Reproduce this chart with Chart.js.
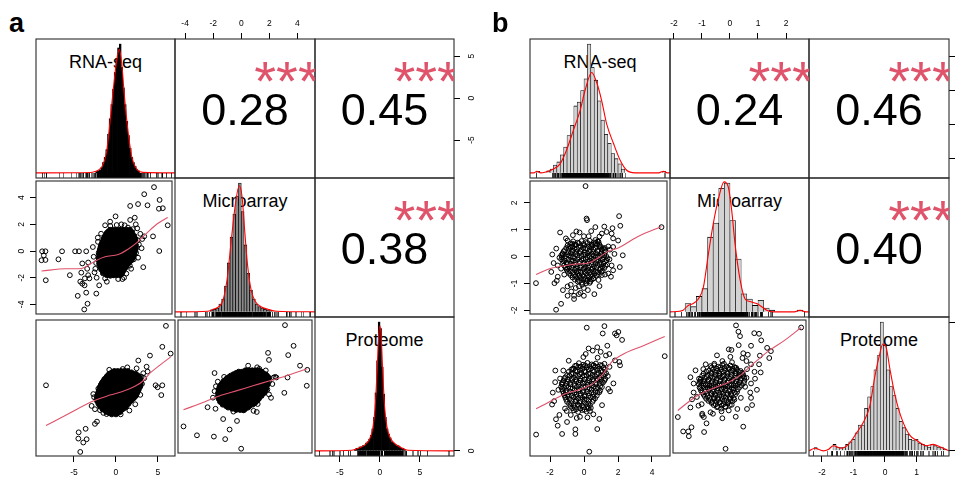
<!DOCTYPE html>
<html>
<head>
<meta charset="utf-8">
<title>Correlation matrices</title>
<script src="https://cdn.jsdelivr.net/npm/chart.js@4.4.1/dist/chart.umd.min.js"></script>
<style>
html,body{margin:0;padding:0;background:#fff;overflow:hidden;}
#root{position:relative;width:961px;height:477px;overflow:hidden;background:#fff;font-family:"Liberation Sans",Arial,Helvetica,sans-serif;}
#root canvas{position:absolute;z-index:1;}
.lbl{position:absolute;white-space:nowrap;line-height:1;color:#000;}
.cell{position:absolute;overflow:hidden;z-index:2;}
</style>
</head>
<body>
<div id="root"></div>
<script>
// ================= DATA =================
const varNames = ['RNA-seq', 'Microarray', 'Proteome'];
const panelTags = ['a', 'b'];
const corA = ['0.28', '0.45', '0.38'];      // (RNA,Micro) (RNA,Prot) (Micro,Prot)
const corB = ['0.24', '0.46', '0.40'];
const signifA = ['***', '***', '***'];
const signifB = ['***', '***', '***'];

const aRnaRange = [-9.52, 7.03], aMicroRange = [-4.72, 5.25], aProtRange = [-8.1, 9.25];
const bRnaRange = [-3.18, 5.06], bMicroRange = [-2.14, 2.82], bProtRange = [-2.41, 2.03];
const aRnaTicks = [-5, 0, 5], aMicroTicks = [-4, -2, 0, 2, 4], aProtTicks = [-5, 0, 5];
const bRnaTicks = [-2, 0, 2, 4], bMicroTicks = [-2, -1, 0, 1, 2], bProtTicks = [-2, -1, 0, 1];
const histRange = [-0.04, 1.04];

// ---- histograms (bin centres, relative heights) ----
const aRnaBinX = [-2.3,-2.1,-1.9,-1.7,-1.5,-1.3,-1.1,-0.9,-0.7,-0.5,-0.3,-0.1,0.1,0.3,0.5,0.7,0.9,1.1,1.3,1.5,1.7,1.9,2.1,2.3,2.5,2.7];
const aRnaBinH = [0.01,0.015,0.02,0.04,0.08,0.12,0.18,0.3,0.42,0.53,0.65,0.78,0.89,0.97,1.0,0.82,0.66,0.53,0.4,0.29,0.19,0.12,0.08,0.05,0.025,0.015];
const aMicroBinX = [-2.1,-1.9,-1.7,-1.5,-1.3,-1.1,-0.9,-0.7,-0.5,-0.3,-0.1,0.1,0.3,0.5,0.7,0.9,1.1,1.3,1.5,1.7,1.9,2.1];
const aMicroBinH = [0.015,0.02,0.03,0.06,0.1,0.2,0.38,0.58,0.76,0.9,1.0,0.78,0.52,0.3,0.17,0.1,0.06,0.04,0.03,0.02,0.015,0.01];
const aProtBinX = [-3.1,-2.9,-2.7,-2.5,-2.3,-2.1,-1.9,-1.7,-1.5,-1.3,-1.1,-0.9,-0.7,-0.5,-0.3,-0.1,0.1,0.3,0.5,0.7,0.9,1.1,1.3,1.5,1.7,1.9,2.1,2.3,2.5,2.7,2.9,3.1];
const aProtBinH = [0.01,0.02,0.02,0.03,0.03,0.04,0.04,0.06,0.07,0.09,0.12,0.17,0.26,0.45,0.7,1.0,0.95,0.65,0.44,0.26,0.17,0.13,0.1,0.07,0.06,0.05,0.04,0.04,0.03,0.02,0.02,0.01];
const bRnaBinX = [-2.7,-2.1,-1.9,-1.7,-1.5,-1.3,-1.1,-0.9,-0.7,-0.5,-0.3,-0.1,0.1,0.3,0.5,0.7,0.9,1.1,1.3,1.5,1.7,1.9,2.1,2.3,4.7];
const bRnaBinH = [0.012,0.015,0.03,0.06,0.085,0.14,0.2,0.29,0.37,0.52,0.55,0.64,0.73,1.0,0.82,0.72,0.56,0.41,0.3,0.23,0.15,0.11,0.07,0.03,0.012];
const bMicroBinX = [-1.5,-1.3,-1.1,-0.9,-0.7,-0.5,-0.3,-0.1,0.1,0.3,0.5,0.7,0.9,1.1,1.3,1.5,2.5];
const bMicroBinH = [0.065,0.04,0.12,0.18,0.58,0.69,0.96,1.0,0.71,0.41,0.14,0.1,0.05,0.09,0.03,0.013,0.013];
const bProtBinX = [-2.2,-1.6,-1.5,-1.4,-1.3,-1.2,-1.1,-1.0,-0.9,-0.8,-0.7,-0.6,-0.5,-0.4,-0.3,-0.2,-0.1,0.0,0.1,0.2,0.3,0.4,0.5,0.6,0.7,0.8,0.9,1.0,1.1,1.2,1.3,1.4,1.5,1.6,1.7,1.8,1.9];
const bProtBinH = [0.026,0.05,0.026,0.026,0.026,0.05,0.07,0.09,0.14,0.2,0.2,0.33,0.42,0.5,0.63,0.74,1.0,0.82,0.63,0.5,0.43,0.33,0.23,0.18,0.13,0.09,0.08,0.09,0.06,0.05,0.04,0.03,0.05,0.04,0.03,0.03,0.013];

// ---- density curves (x, relative y) ----
const aRnaDens = [-9.52,0, -3.0,0.003, -2.5,0.01, -2.0,0.025, -1.5,0.07, -1.1,0.17, -0.7,0.4, -0.3,0.66, 0.1,0.88, 0.4,0.96, 0.7,0.84, 1.0,0.6, 1.3,0.4, 1.6,0.24, 1.9,0.12, 2.2,0.06, 2.6,0.02, 3.2,0.004, 7.03,0];
const aMicroDens = [-4.72,0, -2.4,0.005, -2.0,0.02, -1.6,0.04, -1.3,0.09, -1.0,0.26, -0.7,0.57, -0.4,0.85, -0.15,0.98, 0.05,0.9, 0.25,0.62, 0.45,0.36, 0.7,0.17, 1.0,0.08, 1.4,0.04, 1.9,0.02, 2.5,0.005, 5.25,0];
const aProtDens = [-8.1,0, -3.5,0.005, -2.5,0.025, -1.8,0.05, -1.3,0.09, -0.9,0.17, -0.6,0.33, -0.35,0.62, -0.15,0.9, 0.0,0.97, 0.15,0.9, 0.35,0.62, 0.6,0.33, 0.9,0.18, 1.3,0.1, 1.8,0.06, 2.5,0.03, 3.5,0.005, 9.25,0];
const bRnaDens = [-3.18,0, -2.95,0, -2.78,0.012, -2.55,0, -2.3,0.005, -1.8,0.03, -1.41,0.07, -1.02,0.18, -0.63,0.33, -0.24,0.48, 0.06,0.64, 0.45,0.78, 0.75,0.7, 1.04,0.56, 1.33,0.38, 1.73,0.23, 2.12,0.1, 2.51,0.02, 3.0,0, 4.4,0, 4.67,0.013, 4.9,0, 5.06,0];
const bMicroDens = [-2.14,0, -1.8,0.005, -1.67,0.013, -1.49,0.05, -1.31,0.065, -1.13,0.1, -0.95,0.19, -0.77,0.45, -0.6,0.68, -0.42,0.87, -0.21,1.01, -0.06,0.97, 0.06,0.79, 0.18,0.53, 0.36,0.25, 0.54,0.1, 0.71,0.08, 0.95,0.065, 1.13,0.04, 1.31,0.013, 1.55,0, 2.3,0, 2.5,0.013, 2.7,0, 2.82,0];
const bProtDens = [-2.41,0, -2.22,0.02, -1.96,0, -1.8,0.01, -1.64,0.04, -1.38,0.02, -1.16,0.05, -0.9,0.14, -0.69,0.22, -0.48,0.35, -0.32,0.58, -0.16,0.76, -0.07,0.83, 0.03,0.81, 0.16,0.63, 0.32,0.43, 0.53,0.25, 0.79,0.12, 1.01,0.08, 1.32,0.04, 1.53,0.05, 1.75,0.03, 2.03,0];

// ---- scatter points, panel a (x,y pairs; core rows = [y, x1, x2, ...]) ----
const aRnaMicroPts = [4.84,4.79, 3.65,4.26, 5.52,3.83, 2.9,3.52, 1.94,3.38, 4.05,3.43, 5.44,3.17, 5.91,3.21, 0.16,2.6, 6.51,1.93, 2.62,2.0, 1.94,2.33, 4.72,1.1, 3.65,1.1, 5.48,0.0, 3.53,-1.21, 3.33,0.21, -8.77,-0.02, -8.37,-0.02, -8.57,-0.33, -8.85,-0.69, -8.37,-0.67, -8.33,-2.19, -6.35,-0.02, -6.79,-0.62, -4.76,-0.02, -4.29,-0.02, -3.41,-0.02, -5.4,-1.81, -4.44,-3.36, -3.41,-3.12, -3.65,-4.38, -3.25,-3.95, -2.18,-3.19, -1.83,-2.57, -4.13,-2.29, -3.89,-2.45, -3.61,-2.57, -3.57,-2.05, -4.01,-1.62, -3.29,-1.33, -3.17,-1.81, -3.02,-2.05, -3.17,-0.86, -3.89,-0.93, -2.5,-0.43, -2.3,-1.33, -2.14,-2.0, -1.98,0.69, -1.11,1.93, -0.48,1.88, 0.48,-2.1, 0.99,-2.1, -1.11,-2.05, -0.48,-1.86, -1.55,-1.33, -1.39,-1.67, 1.9,-1.1, 2.38,-0.62, 3.17,1.29, 2.86,0.81, 1.27,1.93, 0.87,2.0, 1.67,1.76, 2.06,1.4, 2.26,1.64, -0.91,0.69, -1.31,0.21, -1.9,-0.14, -1.71,-0.74, 2.46,0.1, 2.66,-0.14, 2.06,-1.33, -0.12,-1.81, 1.47,-1.69, -2.6,0.3, -2.2,-0.9, -2.4,-1.6, 2.9,-0.5, 3.0,0.5, 2.8,1.7, -0.5,2.2, 0.3,1.95, 1.2,-2.0, -0.9,-2.3, -1.6,1.3, -2.0,1.0, 3.4,0.9, 2.5,2.5];
const aRnaMicroCoreRows = [
 [1.6, -0.5,-0.1,0.3,0.7,1.1,1.5,1.9],
 [1.49, -0.7,-0.3,0.1,0.5,0.9,1.3,1.7,2.05],
 [1.37, -0.9,-0.5,-0.1,0.3,0.7,1.1,1.5,1.9,2.2],
 [1.26, -1.0,-0.6,-0.2,0.2,0.6,1.0,1.4,1.8,2.2],
 [1.14, -1.1,-0.7,-0.3,0.1,0.5,0.9,1.3,1.7,2.1,2.45],
 [1.03, -1.2,-0.8,-0.4,0.0,0.4,0.8,1.2,1.6,2.0,2.4],
 [0.91, -1.3,-0.9,-0.5,-0.1,0.3,0.7,1.1,1.5,1.9,2.3,2.6],
 [0.8, -1.35,-0.95,-0.55,-0.15,0.25,0.65,1.05,1.45,1.85,2.25,2.55],
 [0.68, -1.45,-1.05,-0.65,-0.25,0.15,0.55,0.95,1.35,1.75,2.15,2.55],
 [0.57, -1.5,-1.1,-0.7,-0.3,0.1,0.5,0.9,1.3,1.7,2.1,2.5],
 [0.45, -1.6,-1.2,-0.8,-0.4,0.0,0.4,0.8,1.2,1.6,2.0,2.4,2.65],
 [0.34, -1.65,-1.25,-0.85,-0.45,-0.05,0.35,0.75,1.15,1.55,1.95,2.35],
 [0.22, -1.7,-1.3,-0.9,-0.5,-0.1,0.3,0.7,1.1,1.5,1.9,2.3,2.65],
 [0.11, -1.75,-1.35,-0.95,-0.55,-0.15,0.25,0.65,1.05,1.45,1.85,2.25,2.6],
 [-0.01, -1.8,-1.4,-1.0,-0.6,-0.2,0.2,0.6,1.0,1.4,1.8,2.2,2.55],
 [-0.12, -1.6,-1.2,-0.8,-0.4,0.0,0.4,0.8,1.2,1.6,2.0,2.4],
 [-0.24, -1.85,-1.45,-1.05,-0.65,-0.25,0.15,0.55,0.95,1.35,1.75,2.15,2.45],
 [-0.35, -1.65,-1.25,-0.85,-0.45,-0.05,0.35,0.75,1.15,1.55,1.95,2.3],
 [-0.47, -1.9,-1.5,-1.1,-0.7,-0.3,0.1,0.5,0.9,1.3,1.7,2.1,2.35],
 [-0.58, -1.7,-1.3,-0.9,-0.5,-0.1,0.3,0.7,1.1,1.5,1.9,2.2],
 [-0.7, -1.9,-1.5,-1.1,-0.7,-0.3,0.1,0.5,0.9,1.3,1.7,2.1],
 [-0.81, -1.7,-1.3,-0.9,-0.5,-0.1,0.3,0.7,1.1,1.5,1.9],
 [-0.93, -1.85,-1.45,-1.05,-0.65,-0.25,0.15,0.55,0.95,1.35,1.75],
 [-1.04, -1.65,-1.25,-0.85,-0.45,-0.05,0.35,0.75,1.15,1.55],
 [-1.16, -1.75,-1.35,-0.95,-0.55,-0.15,0.25,0.65,1.05,1.45],
 [-1.27, -1.4,-1.0,-0.6,-0.2,0.2,0.6,1.0,1.35],
 [-1.39, -1.6,-1.2,-0.8,-0.4,0.0,0.4,0.8,1.2],
 [-1.5, -1.2,-0.8,-0.4,0.0,0.4,0.8,1.1],
 [-1.62, -1.35,-0.95,-0.55,-0.15,0.25,0.65,1.0],
 [-1.72, -0.7,-0.3,0.1,0.5,0.85],
 [-1.82, -0.9,-0.5,-0.1,0.3,0.7]
];
const aRnaProtPts = [5.95,8.5, 5.52,5.83, 6.51,4.96, 4.05,4.71, 2.66,4.08, 1.35,3.21, 2.46,3.08, 3.65,3.29, 3.77,2.67, 3.25,2.46, 3.06,2.0, 3.37,1.83, 4.72,0.92, 4.96,0.67, 5.52,0.92, 5.4,-0.33, -8.33,0.92, -2.9,-1.71, -2.5,-2.13, -2.26,-3.71, -2.5,-4.0, -4.44,-5.08, -3.61,-4.63, -4.48,-5.88, -3.49,-5.96, -3.89,-6.38, -4.25,-7.58, -1.9,-2.25, -1.11,-2.75, 0.56,-2.79, -0.12,2.67, 1.27,2.46, 2.06,2.04, -2.1,0.5, -2.6,-0.6, 3.1,1.1, 2.9,-0.3, 0.8,3.0, -0.8,2.9, 1.6,-2.3, -1.5,-2.6, 2.3,-1.5, -2.7,-0.2];
const aRnaProtCoreRows = [
 [2.75, -0.2,0.2,0.6,1.0,1.4],
 [2.58, -0.5,-0.1,0.3,0.7,1.1,1.5,1.85],
 [2.4, -0.8,-0.4,0.0,0.4,0.8,1.2,1.6,2.0,2.35],
 [2.22, -0.95,-0.55,-0.15,0.25,0.65,1.05,1.45,1.85,2.25,2.55],
 [2.05, -1.1,-0.7,-0.3,0.1,0.5,0.9,1.3,1.7,2.1,2.5,2.75],
 [1.88, -1.2,-0.8,-0.4,0.0,0.4,0.8,1.2,1.6,2.0,2.4,2.8],
 [1.7, -1.4,-1.0,-0.6,-0.2,0.2,0.6,1.0,1.4,1.8,2.2,2.6,2.9],
 [1.52, -1.45,-1.05,-0.65,-0.25,0.15,0.55,0.95,1.35,1.75,2.15,2.55,2.9],
 [1.35, -1.6,-1.2,-0.8,-0.4,0.0,0.4,0.8,1.2,1.6,2.0,2.4,2.8,3.0],
 [1.18, -1.7,-1.3,-0.9,-0.5,-0.1,0.3,0.7,1.1,1.5,1.9,2.3,2.7],
 [1.0, -1.8,-1.4,-1.0,-0.6,-0.2,0.2,0.6,1.0,1.4,1.8,2.2,2.6,2.95],
 [0.82, -1.85,-1.45,-1.05,-0.65,-0.25,0.15,0.55,0.95,1.35,1.75,2.15,2.55,2.9],
 [0.65, -1.95,-1.55,-1.15,-0.75,-0.35,0.05,0.45,0.85,1.25,1.65,2.05,2.45,2.85],
 [0.48, -1.75,-1.35,-0.95,-0.55,-0.15,0.25,0.65,1.05,1.45,1.85,2.25,2.65],
 [0.3, -2.05,-1.65,-1.25,-0.85,-0.45,-0.05,0.35,0.75,1.15,1.55,1.95,2.35,2.7],
 [0.12, -1.85,-1.45,-1.05,-0.65,-0.25,0.15,0.55,0.95,1.35,1.75,2.15,2.5],
 [-0.05, -2.15,-1.75,-1.35,-0.95,-0.55,-0.15,0.25,0.65,1.05,1.45,1.85,2.25,2.55],
 [-0.22, -1.95,-1.55,-1.15,-0.75,-0.35,0.05,0.45,0.85,1.25,1.65,2.05,2.4],
 [-0.4, -2.25,-1.85,-1.45,-1.05,-0.65,-0.25,0.15,0.55,0.95,1.35,1.75,2.15,2.4],
 [-0.58, -2.0,-1.6,-1.2,-0.8,-0.4,0.0,0.4,0.8,1.2,1.6,2.0,2.25],
 [-0.75, -2.3,-1.9,-1.5,-1.1,-0.7,-0.3,0.1,0.5,0.9,1.3,1.7,2.1],
 [-0.92, -2.1,-1.7,-1.3,-0.9,-0.5,-0.1,0.3,0.7,1.1,1.5,1.9],
 [-1.1, -2.25,-1.85,-1.45,-1.05,-0.65,-0.25,0.15,0.55,0.95,1.35,1.75],
 [-1.28, -2.05,-1.65,-1.25,-0.85,-0.45,-0.05,0.35,0.75,1.15,1.55],
 [-1.45, -2.1,-1.7,-1.3,-0.9,-0.5,-0.1,0.3,0.7,1.1,1.5],
 [-1.62, -1.9,-1.5,-1.1,-0.7,-0.3,0.1,0.5,0.9,1.3],
 [-1.8, -1.9,-1.5,-1.1,-0.7,-0.3,0.1,0.5,0.9,1.2],
 [-1.98, -1.6,-1.2,-0.8,-0.4,0.0,0.4,0.8,1.05],
 [-2.15, -1.6,-1.2,-0.8,-0.4,0.0,0.4,0.8],
 [-2.32, -1.3,-0.9,-0.5,-0.1,0.3,0.6],
 [-2.5, -1.1,-0.7,-0.3,0.1,0.5],
 [-2.65, -0.8,-0.4,0.2],
 [-2.8, -0.5,0.0]
];
const aMicroProtPts = [3.24,8.58, 3.88,5.88, 1.98,4.96, 3.48,4.67, 2.05,4.04, 4.36,3.29, 4.9,2.75, 3.43,1.75, 2.6,1.75, 2.4,1.75, 4.86,0.67, 3.19,-0.25, -2.0,2.33, -2.52,-2.13, -1.93,-2.33, -1.36,-3.67, -0.33,-3.92, -0.88,-5.04, -1.21,-6.29, -2.05,-5.96, -3.31,-5.79, -4.31,-4.63, -0.02,-7.54, 1.21,-1.71, 1.14,-2.75, 0.14,-2.54, 1.81,2.67, 1.33,2.88, 1.62,2.25, 2.05,1.21, 0.5,3.29, 1.17,3.08, -1.29,1.83, -1.76,1.21, -2.0,-0.04, -2.12,-0.88, 1.93,0.17, 2.05,-0.46, 2.52,1.83, 2.3,0.9, -1.9,0.6, 0.9,-2.6, -0.6,-2.7, 2.2,-0.9];
const aMicroProtCoreRows = [
 [2.7, 0.3,0.55,0.8,1.05,1.3],
 [2.52, -0.2,0.05,0.3,0.55,0.8,1.05,1.3,1.5],
 [2.35, -0.4,-0.15,0.1,0.35,0.6,0.85,1.1,1.35,1.6],
 [2.18, -0.6,-0.35,-0.1,0.15,0.4,0.65,0.9,1.15,1.4,1.65,1.8],
 [2.0, -0.8,-0.55,-0.3,-0.05,0.2,0.45,0.7,0.95,1.2,1.45,1.7,1.9],
 [1.81, -0.95,-0.7,-0.45,-0.2,0.05,0.3,0.55,0.8,1.05,1.3,1.55,1.8,2.0],
 [1.62, -1.1,-0.85,-0.6,-0.35,-0.1,0.15,0.4,0.65,0.9,1.15,1.4,1.65,1.9,2.05],
 [1.43, -1.2,-0.95,-0.7,-0.45,-0.2,0.05,0.3,0.55,0.8,1.05,1.3,1.55,1.8,2.0],
 [1.24, -1.35,-1.1,-0.85,-0.6,-0.35,-0.1,0.15,0.4,0.65,0.9,1.15,1.4,1.65,1.9],
 [1.05, -1.4,-1.15,-0.9,-0.65,-0.4,-0.15,0.1,0.35,0.6,0.85,1.1,1.35,1.6,1.85],
 [0.86, -1.5,-1.25,-1.0,-0.75,-0.5,-0.25,0.0,0.25,0.5,0.75,1.0,1.25,1.5,1.75,1.95],
 [0.67, -1.55,-1.3,-1.05,-0.8,-0.55,-0.3,-0.05,0.2,0.45,0.7,0.95,1.2,1.45,1.7,1.9],
 [0.48, -1.65,-1.4,-1.15,-0.9,-0.65,-0.4,-0.15,0.1,0.35,0.6,0.85,1.1,1.35,1.6,1.85],
 [0.29, -1.6,-1.35,-1.1,-0.85,-0.6,-0.35,-0.1,0.15,0.4,0.65,0.9,1.15,1.4,1.65,1.85],
 [0.1, -1.7,-1.45,-1.2,-0.95,-0.7,-0.45,-0.2,0.05,0.3,0.55,0.8,1.05,1.3,1.55,1.8],
 [-0.09, -1.65,-1.4,-1.15,-0.9,-0.65,-0.4,-0.15,0.1,0.35,0.6,0.85,1.1,1.35,1.6],
 [-0.28, -1.75,-1.5,-1.25,-1.0,-0.75,-0.5,-0.25,0.0,0.25,0.5,0.75,1.0,1.25,1.5,1.7],
 [-0.47, -1.65,-1.4,-1.15,-0.9,-0.65,-0.4,-0.15,0.1,0.35,0.6,0.85,1.1,1.35,1.55],
 [-0.66, -1.75,-1.5,-1.25,-1.0,-0.75,-0.5,-0.25,0.0,0.25,0.5,0.75,1.0,1.25,1.5],
 [-0.85, -1.65,-1.4,-1.15,-0.9,-0.65,-0.4,-0.15,0.1,0.35,0.6,0.85,1.1,1.35],
 [-1.04, -1.7,-1.45,-1.2,-0.95,-0.7,-0.45,-0.2,0.05,0.3,0.55,0.8,1.05,1.3],
 [-1.23, -1.55,-1.3,-1.05,-0.8,-0.55,-0.3,-0.05,0.2,0.45,0.7,0.95,1.2],
 [-1.42, -1.6,-1.35,-1.1,-0.85,-0.6,-0.35,-0.1,0.15,0.4,0.65,0.9,1.1],
 [-1.61, -1.45,-1.2,-0.95,-0.7,-0.45,-0.2,0.05,0.3,0.55,0.8,1.0],
 [-1.8, -1.4,-1.15,-0.9,-0.65,-0.4,-0.15,0.1,0.35,0.6,0.85],
 [-1.99, -1.15,-0.9,-0.65,-0.4,-0.15,0.1,0.35,0.6],
 [-2.18, -1.0,-0.75,-0.5,-0.25,0.0,0.25,0.5],
 [-2.34, -0.7,-0.45,-0.2,0.05,0.3],
 [-2.5, -0.4,-0.1,0.2]
];

// ---- scatter points, panel b (x,y pairs) ----
const bRnaMicroPts = [0.16,2.63, 0.22,1.42, 0.25,1.36, 2.18,1.51, 2.25,1.15, 4.73,1.1, -1.37,0.9, -0.39,0.94, 0.75,1.1, 1.29,1.12, 1.43,0.92, 1.78,1.06, 1.73,0.86, 1.14,0.86, -1.02,0.68, -0.92,0.6, 0.06,0.76, 0.35,0.76, 1.82,0.68, 2.12,0.6, -1.84,0.08, -1.76,-0.24, -1.9,-0.57, -2.82,-0.99, -1.71,-0.99, -1.57,-0.9, -1.51,-0.75, 2.22,-0.39, 1.73,-0.33, 1.82,-0.51, 1.69,-0.75, 1.53,-0.63, 1.33,-0.67, -0.92,-1.11, -0.73,-1.05, -0.43,-1.17, -0.24,-1.11, -0.14,-1.35, 0.06,-1.17, 0.2,-0.99, -1.61,-1.98, -1.31,-1.76, -0.92,-1.46, -0.53,-1.58, -0.53,-1.46, -0.24,-1.4, 0.06,-1.46, 0.69,-1.4, -0.04,-1.05, 0.45,-0.93, 0.65,-0.81, 0.94,-0.87, 1.14,-0.69, -0.82,0.38, -0.63,0.48, -0.43,0.44, -1.41,-0.04, -1.22,0.08, -1.51,-0.33, -1.31,-0.45, -1.12,-0.67, 1.14,0.26, 1.33,0.32, 1.53,0.38, 1.63,0.26, 1.82,0.36, 0.94,0.56, 0.75,0.62, 0.55,0.44, -1.2,-1.25, -0.7,-1.3, 0.3,-1.25, 1.0,-1.1, 1.6,-0.1, 1.9,0.1, -1.6,0.3, -0.2,0.9, 0.5,0.95, 1.0,0.75, -0.6,0.8, 2.4,0.05];
const bRnaMicroCore = [-0.58,0.57, -0.31,0.52, -0.08,0.58, 0.18,0.54, 0.41,0.59, 0.66,0.53, 0.88,0.56,
 -0.75,0.49, -0.47,0.46, -0.24,0.5, 0.03,0.47, 0.28,0.51, 0.52,0.46, 0.77,0.5, 0.98,0.47,
 -0.92,0.42, -0.63,0.38, -0.42,0.44, -0.13,0.39, 0.09,0.43, 0.37,0.37, 0.58,0.41, 0.86,0.45, 1.07,0.38,
 -1.0,0.32, -0.73,0.35, -0.5,0.31, -0.25,0.36, 0.02,0.33, 0.27,0.3, 0.5,0.35, 0.76,0.32, 1.0,0.36, 1.22,0.31,
 -1.08,0.24, -0.84,0.29, -0.58,0.23, -0.37,0.28, -0.09,0.25, 0.14,0.3, 0.42,0.24, 0.63,0.27, 0.92,0.22, 1.13,0.28, 1.31,0.25,
 -1.15,0.2, -0.88,0.16, -0.65,0.21, -0.4,0.17, -0.15,0.19, 0.11,0.15, 0.37,0.2, 0.61,0.17, 0.87,0.21, 1.12,0.16, 1.36,0.19,
 -1.22,0.12, -0.93,0.08, -0.72,0.13, -0.44,0.09, -0.21,0.14, 0.07,0.07, 0.28,0.12, 0.57,0.08, 0.78,0.13, 1.06,0.1, 1.29,0.06,
 -1.3,0.05, -1.08,0.01, -0.83,0.04, -0.59,0.0, -0.34,0.05, -0.08,0.02, 0.16,0.06, 0.41,0.01, 0.66,0.04, 0.91,0.0, 1.16,0.05, 1.4,0.02,
 -1.26,-0.02, -1.02,-0.07, -0.73,-0.01, -0.52,-0.06, -0.23,-0.03, 0.02,-0.08, 0.26,-0.02, 0.49,-0.06, 0.77,-0.01, 0.98,-0.05, 1.27,-0.03, 1.48,-0.07,
 -1.3,-0.1, -1.1,-0.14, -0.85,-0.11, -0.6,-0.15, -0.33,-0.1, -0.07,-0.13, 0.18,-0.09, 0.42,-0.14, 0.68,-0.1, 0.92,-0.15, 1.17,-0.11, 1.42,-0.14,
 -1.18,-0.17, -0.97,-0.22, -0.68,-0.16, -0.46,-0.21, -0.18,-0.18, 0.06,-0.23, 0.32,-0.17, 0.53,-0.2, 0.81,-0.15, 1.04,-0.22, 1.32,-0.18,
 -1.2,-0.25, -0.95,-0.29, -0.74,-0.26, -0.48,-0.3, -0.22,-0.24, 0.03,-0.28, 0.27,-0.25, 0.53,-0.29, 0.76,-0.24, 1.0,-0.28, 1.24,-0.25, 1.45,-0.3,
 -1.12,-0.33, -0.83,-0.38, -0.62,-0.32, -0.33,-0.37, -0.12,-0.34, 0.17,-0.39, 0.38,-0.33, 0.67,-0.36, 0.88,-0.31, 1.16,-0.38, 1.36,-0.34,
 -1.05,-0.4, -0.9,-0.45, -0.66,-0.41, -0.4,-0.44, -0.16,-0.4, 0.09,-0.45, 0.33,-0.41, 0.58,-0.44, 0.82,-0.4, 1.08,-0.45, 1.3,-0.42,
 -0.98,-0.48, -0.77,-0.53, -0.48,-0.49, -0.27,-0.54, 0.03,-0.47, 0.24,-0.52, 0.52,-0.48, 0.73,-0.53, 1.02,-0.49, 1.19,-0.54,
 -0.9,-0.56, -0.62,-0.6, -0.38,-0.55, -0.14,-0.59, 0.12,-0.56, 0.37,-0.6, 0.61,-0.55, 0.86,-0.59, 1.1,-0.57,
 -0.82,-0.63, -0.53,-0.68, -0.32,-0.64, -0.03,-0.69, 0.18,-0.62, 0.47,-0.67, 0.68,-0.63, 0.96,-0.68,
 -0.72,-0.7, -0.45,-0.74, -0.2,-0.71, 0.06,-0.75, 0.3,-0.7, 0.56,-0.74, 0.81,-0.71,
 -0.62,-0.78, -0.33,-0.83, -0.12,-0.79, 0.16,-0.84, 0.38,-0.77, 0.63,-0.82,
 -0.48,-0.86, -0.22,-0.9, 0.03,-0.85, 0.28,-0.89, 0.52,-0.86,
 -0.31,-0.93, -0.06,-0.97, 0.22,-0.92, 0.41,-0.98];
const bRnaProtPts = [0.31,-2.27, -2.82,-1.71, -1.29,-1.69, -0.51,-1.54, -0.51,-1.69, 0.78,-1.53, -1.55,-1.42, -1.65,-1.21, -1.45,-1.07, -1.88,-0.73, -1.76,-0.62, -1.84,-0.34, -1.69,0.38, -1.22,0.38, 0.16,1.78, 1.2,1.83, 1.1,1.59, 1.82,1.59, 2.02,1.64, 1.92,1.53, 2.24,1.38, 1.37,1.19, 0.27,1.1, 0.78,1.14, 0.51,1.03, 0.98,0.99, 1.29,0.87, 1.49,0.92, 1.82,0.71, 2.08,0.66, 2.12,0.55, 4.75,0.85, 1.73,-0.04, 1.53,-0.3, 1.43,-0.22, 1.06,-0.75, 0.35,-0.94, 0.55,-1.05, 0.2,-1.15, -0.24,-1.13, -0.43,-1.17, -0.78,-1.07, -1.02,-0.94, -1.12,-0.86, -1.31,-0.04, -1.41,0.12, -1.51,-0.25, -0.53,0.53, -0.67,0.44, -0.04,0.82, 0.1,0.92, -0.04,0.5, 0.55,0.55, -0.9,0.7, 1.5,0.5, 0.8,0.8, 1.2,0.6, -1.0,-1.3, 0.9,-1.2, -1.7,0.0, 1.4,0.2];
const bRnaProtCore = [-0.3,0.62, -0.05,0.57, 0.2,0.63, 0.45,0.58, 0.7,0.61, 0.95,0.56,
 -0.45,0.54, -0.2,0.51, 0.07,0.55, 0.32,0.52, 0.57,0.55, 0.82,0.51, 1.05,0.54,
 -0.6,0.44, -0.35,0.49, -0.1,0.43, 0.15,0.48, 0.4,0.45, 0.65,0.5, 0.9,0.44, 1.15,0.47,
 -0.75,0.41, -0.5,0.37, -0.25,0.4, 0.02,0.36, 0.27,0.41, 0.52,0.38, 0.77,0.4, 1.0,0.37, 1.22,0.41,
 -0.9,0.34, -0.65,0.29, -0.4,0.35, -0.15,0.3, 0.1,0.33, 0.35,0.28, 0.6,0.34, 0.85,0.3, 1.1,0.35, 1.3,0.29,
 -1.0,0.23, -0.75,0.27, -0.5,0.24, -0.25,0.26, 0.0,0.22, 0.25,0.27, 0.5,0.23, 0.75,0.26, 1.0,0.22, 1.22,0.26,
 -1.1,0.16, -0.85,0.21, -0.6,0.15, -0.35,0.2, -0.1,0.17, 0.15,0.22, 0.4,0.16, 0.65,0.19, 0.9,0.15, 1.15,0.21,
 -1.15,0.13, -0.95,0.09, -0.72,0.12, -0.47,0.08, -0.22,0.12, 0.03,0.09, 0.28,0.13, 0.53,0.1, 0.78,0.12, 1.02,0.08, 1.25,0.11,
 -1.2,0.06, -0.95,0.01, -0.7,0.07, -0.45,0.02, -0.2,0.05, 0.05,0.0, 0.3,0.06, 0.55,0.03, 0.8,0.07, 1.05,0.01, 1.2,0.05,
 -1.25,-0.01, -1.05,-0.05, -0.82,-0.02, -0.57,-0.06, -0.32,-0.01, -0.07,-0.04, 0.18,0.0, 0.43,-0.05, 0.68,-0.02, 0.92,-0.05, 1.12,-0.01,
 -1.3,-0.08, -1.05,-0.13, -0.8,-0.07, -0.55,-0.12, -0.3,-0.09, -0.05,-0.14, 0.2,-0.08, 0.45,-0.11, 0.7,-0.06, 0.95,-0.13,
 -1.35,-0.15, -1.17,-0.19, -0.92,-0.16, -0.67,-0.2, -0.42,-0.15, -0.17,-0.19, 0.08,-0.16, 0.33,-0.2, 0.58,-0.15, 0.82,-0.19, 1.05,-0.16,
 -1.3,-0.22, -1.05,-0.27, -0.8,-0.21, -0.55,-0.26, -0.3,-0.23, -0.05,-0.28, 0.2,-0.22, 0.45,-0.25, 0.7,-0.2, 0.95,-0.27,
 -1.25,-0.29, -1.07,-0.33, -0.82,-0.3, -0.57,-0.34, -0.32,-0.29, -0.07,-0.33, 0.18,-0.3, 0.43,-0.34, 0.68,-0.29, 0.9,-0.33,
 -1.2,-0.36, -0.95,-0.41, -0.7,-0.35, -0.45,-0.4, -0.2,-0.37, 0.05,-0.42, 0.3,-0.36, 0.55,-0.39, 0.8,-0.34,
 -1.15,-0.43, -0.97,-0.47, -0.72,-0.44, -0.47,-0.48, -0.22,-0.43, 0.03,-0.47, 0.28,-0.44, 0.53,-0.48, 0.75,-0.44,
 -1.1,-0.5, -0.85,-0.55, -0.6,-0.49, -0.35,-0.54, -0.1,-0.51, 0.15,-0.56, 0.4,-0.5, 0.65,-0.53,
 -1.05,-0.57, -0.72,-0.61, -0.47,-0.58, -0.22,-0.62, 0.03,-0.57, 0.28,-0.61, 0.55,-0.58,
 -1.0,-0.64, -0.75,-0.69, -0.5,-0.63, -0.25,-0.68, 0.0,-0.65, 0.25,-0.7, 0.5,-0.64,
 -0.88,-0.71, -0.62,-0.75, -0.37,-0.72, -0.12,-0.76, 0.12,-0.71, 0.35,-0.75,
 -0.8,-0.78, -0.55,-0.83, -0.3,-0.77, -0.05,-0.82, 0.2,-0.79, 0.4,-0.84,
 -0.7,-0.85, -0.47,-0.89, -0.22,-0.86, 0.03,-0.9, 0.27,-0.85,
 -0.6,-0.92, -0.35,-0.97, -0.1,-0.91, 0.15,-0.96];
const bMicroProtPts = [2.64,1.78, 0.21,1.85, 0.3,1.64, 0.36,1.49, 0.89,1.59, 1.07,1.57, 1.15,1.35, 0.31,1.19, -0.06,1.05, 0.04,1.03, 0.77,1.17, 1.37,1.1, 1.51,0.99, 1.45,0.76, 0.48,0.92, 0.65,0.87, 0.45,0.76, 1.1,0.84, 1.07,0.55, 1.13,0.28, 0.6,0.66, 0.77,0.55, 0.62,0.39, 0.92,0.07, 0.77,-0.09, 0.99,-0.3, 0.74,-0.39, 0.77,-0.57, 0.81,-0.81, 0.62,-0.94, 0.39,-0.57, 0.26,-0.94, 0.48,-1.53, -0.18,-2.27, -1.96,-1.21, -1.76,-1.69, -1.57,-1.69, -1.45,-1.55, -1.55,-1.85, -0.98,-1.71, -0.89,-1.42, -1.05,-1.15, -0.99,-1.21, -1.05,-1.1, -1.49,-0.89, -0.74,-1.05, -0.65,-1.1, -0.33,-1.02, -0.06,-0.99, -1.19,-0.83, -1.07,-0.78, -1.49,0.12, -1.37,-0.09, -1.37,-0.39, -1.17,0.07, -1.1,-0.03, -1.01,0.39, -0.92,0.55, -0.74,0.49, -0.6,0.57, -0.3,0.66, -0.24,0.57, -1.43,-0.62, -1.25,-0.54, 0.06,0.62, 0.18,0.44, -0.5,0.85, 0.0,0.8, 0.6,0.1, 0.55,-0.2, -0.3,-1.25, 0.2,-1.2, -1.3,0.35, 0.9,0.3];
const bMicroProtCore = [-0.6,0.52, -0.45,0.47, -0.3,0.53, -0.15,0.48, 0.0,0.51, 0.15,0.46,
 -0.7,0.44, -0.52,0.41, -0.38,0.45, -0.22,0.42, -0.08,0.44, 0.08,0.4, 0.22,0.43,
 -0.8,0.34, -0.65,0.39, -0.5,0.33, -0.35,0.38, -0.2,0.35, -0.05,0.4, 0.1,0.34, 0.25,0.37, 0.38,0.33,
 -0.9,0.31, -0.72,0.27, -0.58,0.3, -0.42,0.26, -0.28,0.31, -0.12,0.28, 0.02,0.3, 0.18,0.26, 0.32,0.3, 0.44,0.27,
 -1.0,0.24, -0.85,0.19, -0.7,0.25, -0.55,0.2, -0.4,0.23, -0.25,0.18, -0.1,0.24, 0.05,0.2, 0.2,0.25, 0.35,0.19, 0.47,0.23,
 -1.05,0.17, -0.88,0.13, -0.72,0.16, -0.58,0.12, -0.42,0.17, -0.28,0.14, -0.12,0.16, 0.02,0.12, 0.18,0.17, 0.32,0.13, 0.48,0.16,
 -1.1,0.06, -0.95,0.11, -0.8,0.05, -0.65,0.1, -0.5,0.07, -0.35,0.12, -0.2,0.06, -0.05,0.09, 0.1,0.04, 0.25,0.11, 0.4,0.07, 0.52,0.1,
 -1.12,0.03, -0.98,-0.01, -0.82,0.02, -0.68,-0.02, -0.52,0.03, -0.38,0.0, -0.22,0.03, -0.08,-0.01, 0.08,0.02, 0.22,-0.02, 0.38,0.03, 0.52,0.0,
 -1.15,-0.04, -1.0,-0.09, -0.85,-0.03, -0.7,-0.08, -0.55,-0.05, -0.4,-0.1, -0.25,-0.04, -0.1,-0.07, 0.05,-0.02, 0.2,-0.09, 0.35,-0.05, 0.5,-0.08,
 -1.18,-0.11, -1.08,-0.15, -0.92,-0.12, -0.78,-0.16, -0.62,-0.11, -0.48,-0.15, -0.32,-0.12, -0.18,-0.16, -0.02,-0.11, 0.12,-0.15, 0.28,-0.12, 0.42,-0.15,
 -1.15,-0.22, -1.0,-0.17, -0.85,-0.23, -0.7,-0.18, -0.55,-0.21, -0.4,-0.16, -0.25,-0.22, -0.1,-0.19, 0.05,-0.24, 0.2,-0.17, 0.35,-0.21,
 -1.12,-0.25, -0.92,-0.29, -0.78,-0.26, -0.62,-0.3, -0.48,-0.25, -0.32,-0.29, -0.18,-0.26, -0.02,-0.3, 0.12,-0.25, 0.28,-0.28,
 -1.1,-0.32, -0.95,-0.37, -0.8,-0.31, -0.65,-0.36, -0.5,-0.33, -0.35,-0.38, -0.2,-0.32, -0.05,-0.35, 0.1,-0.3, 0.25,-0.37,
 -1.05,-0.39, -0.88,-0.43, -0.72,-0.4, -0.58,-0.44, -0.42,-0.39, -0.28,-0.43, -0.12,-0.4, 0.02,-0.44, 0.15,-0.39,
 -1.0,-0.46, -0.85,-0.51, -0.7,-0.45, -0.55,-0.5, -0.4,-0.47, -0.25,-0.52, -0.1,-0.46, 0.05,-0.49, 0.2,-0.44,
 -0.95,-0.53, -0.78,-0.57, -0.62,-0.54, -0.48,-0.58, -0.32,-0.53, -0.18,-0.57, -0.02,-0.54, 0.12,-0.58,
 -0.9,-0.6, -0.75,-0.65, -0.6,-0.59, -0.45,-0.64, -0.3,-0.61, -0.15,-0.66, 0.0,-0.6, 0.15,-0.63,
 -0.82,-0.67, -0.68,-0.71, -0.52,-0.68, -0.38,-0.72, -0.22,-0.67, -0.08,-0.71, 0.08,-0.68,
 -0.7,-0.74, -0.55,-0.79, -0.4,-0.73, -0.25,-0.78, -0.1,-0.75, 0.05,-0.8,
 -0.62,-0.81, -0.48,-0.85, -0.32,-0.82, -0.18,-0.86, -0.02,-0.81,
 -0.5,-0.88, -0.35,-0.93, -0.2,-0.87];

// ---- lowess smoothers (x,y pairs) ----
const aRnaMicroLowess = [-8.85,-1.5, -5.87,-1.33, -4.29,-1.33, -3.57,-1.21, -2.3,-0.74, -1.11,-0.43, 0.48,-0.26, 1.67,0.14, 2.86,0.69, 4.05,1.4, 5.24,2.05, 6.51,2.52];
const aRnaProtLowess = [-8.33,-4.21, -5.87,-2.83, -2.7,-1.08, -0.71,-0.33, 0.87,0.17, 2.26,0.79, 3.25,1.5, 4.05,2.46, 5.24,3.5, 6.51,4.54];
const aMicroProtLowess = [-4.31,-2.46, -2.71,-1.42, -1.52,-0.58, -0.33,0.04, 0.86,0.67, 2.05,1.29, 3.24,1.92, 4.9,2.88];
const bRnaMicroLowess = [-2.82,-0.67, -2.0,-0.45, -1.02,-0.33, -0.24,-0.27, 0.35,-0.24, 0.94,-0.04, 1.53,0.2, 2.12,0.32, 3.29,0.74, 4.73,1.12];
const bRnaProtLowess = [-2.82,-0.87, -1.8,-0.57, -1.02,-0.36, -0.14,-0.22, 0.55,-0.04, 1.14,0.28, 1.63,0.66, 2.22,0.89, 3.49,1.19, 4.75,1.49];
const bMicroProtLowess = [-1.96,-0.99, -1.31,-0.54, -0.71,-0.27, -0.12,-0.07, 0.36,0.18, 0.83,0.55, 1.43,1.0, 2.02,1.35, 2.64,1.78];

// ================= BUILDERS =================
const FONT = '"Liberation Sans", Arial, Helvetica, sans-serif';
const root = document.getElementById('root');
function pairs(flat){const r=[];for(let i=0;i+1<flat.length;i+=2)r.push({x:flat[i],y:flat[i+1]});return r;}
function rowsXY(rs){const r=[];rs.forEach(row=>{for(let i=1;i<row.length;i++)r.push({x:row[i],y:row[0]});});return r;}
function binsXY(xs,hs){return xs.map((x,i)=>({x:x,y:hs[i]}));}
const xsOf = a => a.map(p=>p.x), ysOf = a => a.map(p=>p.y);

const aRMo = pairs(aRnaMicroPts), aRMc = rowsXY(aRnaMicroCoreRows);
const aRPo = pairs(aRnaProtPts), aRPc = rowsXY(aRnaProtCoreRows);
const aMPo = pairs(aMicroProtPts), aMPc = rowsXY(aMicroProtCoreRows);
const bRMo = pairs(bRnaMicroPts), bRMc = pairs(bRnaMicroCore);
const bRPo = pairs(bRnaProtPts), bRPc = pairs(bRnaProtCore);
const bMPo = pairs(bMicroProtPts), bMPc = pairs(bMicroProtCore);
const aRM = aRMo.concat(aRMc), aRP = aRPo.concat(aRPc), aMP = aMPo.concat(aMPc);
const bRM = bRMo.concat(bRMc), bRP = bRPo.concat(bRPc), bMP = bMPo.concat(bMPc);

function axisCfg(range, side, ticks, horizontal, size){
  return {
    type:'linear', min:range[0], max:range[1], offset:false,
    display: !!side, position: side || (horizontal ? 'bottom' : 'left'),
    grid:{display:true, offset:false, drawOnChartArea:false, drawTicks:true, tickLength:6, color:'#000', lineWidth:1},
    border:{display:false},
    ticks:{display: !!side && horizontal, color:'#000', font:{family:FONT, size:8.5}, padding: side==='top'?4.5:6,
           autoSkip:false, maxRotation:0, minRotation:0, callback:(v)=>String(v)},
    afterBuildTicks:(s)=>{ if(ticks) s.ticks = ticks.map(v=>({value:v})); },
    afterFit:(s)=>{ if(horizontal) s.height=size; else s.width=0; s.paddingLeft=0; s.paddingRight=0; s.paddingTop=0; s.paddingBottom=0; }
  };
}

function addDiv(cls, text, css, parent){
  const d=document.createElement('div'); d.className=cls; d.textContent=text; d.style.cssText=css; (parent||root).appendChild(d); return d;
}

function buildPanel(P){
  const L=P.layout;
  addDiv('lbl', P.tag, `left:${L.tagX}px;top:10px;font-size:27px;font-weight:bold;z-index:3;`);
  for(let r=0;r<3;r++)for(let c=0;c<3;c++){
    const x0=L.xs[c],x1=L.xs[c+1],y0=L.ys[r],y1=L.ys[r+1];
    const top=r===0&&c===1, bottom=r===2&&(c===0||c===2), left=c===0&&r===1, right=c===2&&(r===0||r===2);
    const m={l:left?40:((top||bottom)?14:2), t:top?y0:2, r:right?30:((top||bottom)?14:2), b:bottom?21:2};
    const W=x1-x0+m.l+m.r, H=y1-y0+m.t+m.b;
    const cv=document.createElement('canvas');
    cv.width=W; cv.height=H;
    cv.style.left=(x0-m.l)+'px'; cv.style.top=(y0-m.t)+'px'; cv.style.width=W+'px'; cv.style.height=H+'px';
    root.appendChild(cv);
    const xSide=top?'top':(bottom?'bottom':null), ySide=left?'left':(right?'right':null);
    const xAxisSize = top ? m.t : (bottom ? m.b : 0);
    const pad = {left:m.l, right:m.r, top: top?0:m.t, bottom: bottom?0:m.b};
    let type='scatter', datasets=[], rug=null;
    if(r===c){
      const h=P.hist[r]; type='bar'; rug=h.rug;
      datasets=[
        {type:'line', data:pairs(h.dens), borderColor:'#FF0000', borderWidth:1.1, pointRadius:0, cubicInterpolationMode:'monotone', fill:false, order:0},
        {type:'bar', data:binsXY(h.bx,h.bh), backgroundColor:h.fill, borderColor:'#000', borderWidth:h.bw, borderSkipped:'start', barPercentage:1, categoryPercentage:1, order:1}
      ];
      addDiv('lbl', varNames[r], `left:${x0}px;width:${x1-x0}px;text-align:center;top:${y0+14.4}px;font-size:18px;z-index:0;`);
    } else if(r>c){
      const s=P.scat[r+','+c];
      datasets=[
        {type:'line', data:pairs(s.line), borderColor:'#DF536B', borderWidth:1.1, pointRadius:0, cubicInterpolationMode:'monotone', fill:false, order:0},
        {type:'scatter', data:s.core, pointRadius:2.4, pointBorderWidth:1, pointBorderColor:'#000', pointBackgroundColor:P.coreFill, showLine:false, order:1},
        {type:'scatter', data:s.pts, pointRadius:2.4, pointBorderWidth:1, pointBorderColor:'#000', pointBackgroundColor:'rgba(0,0,0,0)', showLine:false, order:2}
      ];
    }
    const yOff = ySide==='left' ? L.yOffL : 17.7;
    const deco = {
      id:'deco',
      afterDatasetsDraw(chart){
        if(!rug) return;
        const xs=chart.scales.x, a=chart.chartArea, ctx=chart.ctx;
        ctx.save(); ctx.beginPath(); ctx.rect(a.left,a.top,a.right-a.left,a.bottom-a.top); ctx.clip();
        ctx.strokeStyle='rgba(0,0,0,0.75)'; ctx.lineWidth=0.7; ctx.beginPath();
        rug.forEach(v=>{const x=Math.round(xs.getPixelForValue(v))+0.5; ctx.moveTo(x,a.bottom); ctx.lineTo(x,a.bottom-5);});
        ctx.stroke(); ctx.restore();
      },
      afterDraw(chart){
        const a=chart.chartArea, ctx=chart.ctx;
        ctx.save(); ctx.strokeStyle='#2a2a2a'; ctx.lineWidth=1.1;
        ctx.strokeRect(a.left, a.top, a.right-a.left, a.bottom-a.top); ctx.restore();
        if(ySide){
          const s=chart.scales.y;
          ctx.save(); ctx.fillStyle='#000'; ctx.font='8.5px '+FONT; ctx.textAlign='center'; ctx.textBaseline='middle';
          s.ticks.forEach(t=>{
            const y=s.getPixelForValue(t.value);
            const x= ySide==='left' ? a.left-yOff : a.right+yOff;
            ctx.save(); ctx.translate(x,y); ctx.rotate(-Math.PI/2); ctx.fillText(String(t.value),0,0); ctx.restore();
          });
          ctx.restore();
        }
      }
    };
    new Chart(cv, {
      type:type,
      data:{datasets:datasets},
      options:{
        responsive:false, maintainAspectRatio:false, animation:false, events:[],
        layout:{padding:pad},
        plugins:{legend:{display:false}, tooltip:{enabled:false}, title:{display:false}},
        scales:{
          x: axisCfg(P.ranges[c], xSide, xSide?P.ticks[c]:null, true, xAxisSize),
          y: axisCfg(r===c?histRange:P.ranges[r], ySide, ySide?P.ticks[r]:null, false, 0)
        }
      },
      plugins:[deco]
    });
    if(r<c){
      const k = (r===0&&c===1)?0:((r===0&&c===2)?1:2);
      const w=x1-x0, h=y1-y0;
      const cell=document.createElement('div'); cell.className='cell';
      cell.style.cssText=`left:${x0}px;top:${y0}px;width:${w}px;height:${h}px;`;
      root.appendChild(cell);
      addDiv('lbl', P.cor[k], `left:0;width:${w}px;text-align:center;top:${h/2-21.6}px;font-size:45px;`, cell);
      addDiv('lbl', P.signif[k], `left:${0.8*w-100}px;width:200px;text-align:center;top:13.6px;font-size:56px;color:#DF536B;`, cell);
    }
  }
}

buildPanel({
  tag:panelTags[0],
  layout:{xs:[36,175,315,454], ys:[39,178,317,456], tagX:9, yOffL:14.3},
  ranges:[aRnaRange,aMicroRange,aProtRange], ticks:[aRnaTicks,aMicroTicks,aProtTicks],
  cor:corA, signif:signifA, coreFill:'#000',
  hist:[
    {bx:aRnaBinX, bh:aRnaBinH, dens:aRnaDens, fill:'#000', bw:0, rug:xsOf(aRM).concat(xsOf(aRP))},
    {bx:aMicroBinX, bh:aMicroBinH, dens:aMicroDens, fill:'#8a8a8a', bw:{top:0.8,left:0.7,right:0.7,bottom:0}, rug:ysOf(aRM).concat(xsOf(aMP))},
    {bx:aProtBinX, bh:aProtBinH, dens:aProtDens, fill:'#000', bw:0, rug:ysOf(aRP).concat(ysOf(aMP))}
  ],
  scat:{'1,0':{pts:aRMo, core:aRMc, line:aRnaMicroLowess}, '2,0':{pts:aRPo, core:aRPc, line:aRnaProtLowess}, '2,1':{pts:aMPo, core:aMPc, line:aMicroProtLowess}}
});
buildPanel({
  tag:panelTags[1],
  layout:{xs:[530,670,809,949], ys:[39,178,317,456], tagX:492, yOffL:15.5},
  ranges:[bRnaRange,bMicroRange,bProtRange], ticks:[bRnaTicks,bMicroTicks,bProtTicks],
  cor:corB, signif:signifB, coreFill:'rgba(0,0,0,0)',
  hist:[
    {bx:bRnaBinX, bh:bRnaBinH, dens:bRnaDens, fill:'#D3D3D3', bw:{top:0.8,left:0.6,right:0.6,bottom:0}, rug:xsOf(bRM).concat(xsOf(bRP))},
    {bx:bMicroBinX, bh:bMicroBinH, dens:bMicroDens, fill:'#D3D3D3', bw:{top:0.8,left:0.6,right:0.6,bottom:0}, rug:ysOf(bRM).concat(xsOf(bMP))},
    {bx:bProtBinX, bh:bProtBinH, dens:bProtDens, fill:'#D3D3D3', bw:{top:0.8,left:0.6,right:0.6,bottom:0}, rug:ysOf(bRP).concat(ysOf(bMP))}
  ],
  scat:{'1,0':{pts:bRMo, core:bRMc, line:bRnaMicroLowess}, '2,0':{pts:bRPo, core:bRPc, line:bRnaProtLowess}, '2,1':{pts:bMPo, core:bMPc, line:bMicroProtLowess}}
});
</script>
</body>
</html>
